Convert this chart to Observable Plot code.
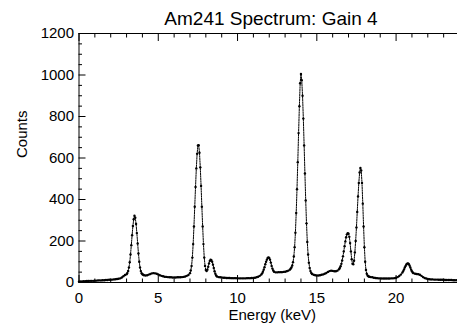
<!DOCTYPE html>
<html><head><meta charset="utf-8">
<script src="https://cdn.jsdelivr.net/npm/d3@7"></script>
<script src="https://cdn.jsdelivr.net/npm/@observablehq/plot@0.6"></script>
<style>
body{margin:0;background:#fff;}
#wrap{position:relative;width:457px;height:325px;overflow:hidden;font-family:"Liberation Sans",Arial,Helvetica,sans-serif;}
#title{position:absolute;top:8px;left:151px;width:240px;text-align:center;font-size:19px;line-height:22px;color:#000;white-space:nowrap;}
svg{display:block;}
</style></head><body>
<div id="wrap"><div id="title">Am241 Spectrum: Gain 4</div></div>
<script>
// Energy (keV) of each plotted channel
const energy = [
  0,0.1,0.2,0.3,0.4,0.5,0.6,0.7,0.8,0.9,1,1.1,1.2,1.3,1.4,1.5,1.6,1.7,1.8,1.9,2,2.1,2.2,2.3,2.4,2.5,2.6,2.7,2.8,2.9,
  3,3.05,3.1,3.15,3.2,3.25,3.3,3.35,3.4,3.45,3.5,3.55,3.6,3.65,3.7,3.75,3.8,3.85,3.9,3.95,4,4.05,
  4.1,4.2,4.3,4.4,4.5,4.6,4.7,4.8,4.9,5,5.1,5.2,5.3,5.4,5.5,5.6,5.7,5.8,5.9,6,6.1,6.2,6.3,6.4,6.5,6.6,6.7,6.8,6.9,
  7,7.05,7.1,7.15,7.2,7.25,7.3,7.35,7.4,7.45,7.5,7.55,7.6,7.65,7.7,7.75,7.8,7.85,7.9,7.95,8,8.05,8.1,8.15,8.2,8.25,8.3,8.35,8.4,8.45,8.5,8.55,8.6,8.65,8.7,
  8.8,8.9,9,9.1,9.2,9.3,9.4,9.5,9.6,9.7,9.8,9.9,10,10.1,10.2,10.3,10.4,10.5,10.6,10.7,10.8,10.9,11,11.1,11.2,11.3,11.4,11.5,
  11.55,11.6,11.65,11.7,11.75,11.8,11.85,11.9,11.95,12,12.05,12.1,12.15,12.2,12.25,12.3,12.4,12.5,12.6,12.7,12.8,12.9,13,13.1,13.2,13.3,
  13.35,13.4,13.45,13.5,13.55,13.6,13.65,13.7,13.75,13.8,13.85,13.9,13.95,14,14.05,14.1,14.15,14.2,14.25,14.3,14.35,14.4,14.45,14.5,14.55,14.6,14.65,14.7,
  14.8,14.9,15,15.1,15.2,15.3,15.4,15.5,15.6,15.7,15.8,15.9,16,16.1,16.2,16.3,16.4,
  16.45,16.5,16.55,16.6,16.65,16.7,16.75,16.8,16.85,16.9,16.95,17,17.05,17.1,17.15,17.2,17.25,17.3,17.35,17.4,17.45,17.5,17.55,17.6,17.65,17.7,17.75,17.8,17.85,17.9,17.95,18,18.05,18.1,18.15,18.2,18.25,18.3,18.35,18.4,
  18.5,18.6,18.7,18.8,18.9,19,19.1,19.2,19.3,19.4,19.5,19.6,19.7,19.8,19.9,20,20.1,20.2,20.3,20.4,
  20.45,20.5,20.55,20.6,20.65,20.7,20.75,20.8,20.85,20.9,20.95,21,21.05,
  21.1,21.2,21.3,21.4,21.5,21.6,21.7,21.8,21.9,22,22.1,22.2,22.3,22.4,22.5,22.6,22.7,22.8,22.9,23,23.1,23.2,23.3,23.4,23.5,23.6,23.7,23.8,23.9,24
];
// Counts
const counts = [
  4,5,5,6,6,7,7,8,8,8,9,9,10,10,10,11,11,12,12,13,13,14,15,16,17,18,20,24,30,36,
  40,46,56,72,98,135,180,228,272,305,322,312,282,238,188,140,100,72,55,45,40,37,
  35,34,35,38,41,44,45,44,42,39,35,32,30,28,27,26,25,25,24,24,24,25,25,25,26,27,29,32,36,
  45,58,80,120,185,270,365,460,550,620,660,662,625,555,465,365,270,185,120,80,60,55,62,76,92,104,110,108,100,86,70,54,42,34,29,
  26,25,24,23,23,22,22,22,21,21,21,21,20,20,20,20,20,20,21,21,21,22,22,23,25,28,32,38,
  44,52,62,74,88,100,110,118,121,118,110,96,80,67,58,52,49,49,50,50,50,51,52,54,57,62,
  66,72,82,98,125,170,240,335,450,580,720,850,960,1005,975,900,790,660,525,395,285,195,135,95,70,55,46,41,
  37,35,34,34,35,37,39,42,46,51,55,57,56,54,54,57,64,
  70,78,90,106,126,150,175,198,218,232,238,235,220,190,150,112,90,88,105,145,200,265,340,415,480,530,552,540,480,380,270,170,100,60,42,34,30,28,27,26,
  25,23,22,21,20,20,19,19,19,19,19,19,20,20,21,23,26,31,38,48,
  55,63,72,80,87,91,92,89,82,72,62,54,48,
  45,42,41,40,37,32,26,22,19,17,16,15,15,14,14,14,13,13,13,13,12,12,12,12,12,11,11,11,11,11
];
const xMajorTicks = [0, 5, 10, 15, 20];
const xMinorTicks = [1,2,3,4,6,7,8,9,11,12,13,14,16,17,18,19,21,22,23,24];
const yMajorTicks = [0, 200, 400, 600, 800, 1000, 1200];
const yMinorTicks = [50,100,150,250,300,350,450,500,550,650,700,750,850,900,950,1050,1100,1150];
const xLabel = "Energy (keV)";
const yLabel = "Counts";

const data = energy.map((e, i) => ({energy: e, counts: counts[i]}));
const font = "Liberation Sans, Arial, Helvetica, sans-serif";
const blank = () => "";
const MAJ = 7, MIN = 3.5;

const chart = Plot.plot({
  width: 457,
  height: 325,
  marginLeft: 78.5,
  marginRight: -2,
  marginTop: 33,
  marginBottom: 43,
  style: {fontFamily: font, fontSize: "15px", color: "#000", background: "#fff"},
  x: {domain: [0, 24]},
  y: {domain: [0, 1200]},
  marks: [
    // box lines
    Plot.ruleY([0, 1200], {stroke: "#000", strokeWidth: 1}),
    Plot.ruleX([0], {stroke: "#000", strokeWidth: 1}),
    // inward ticks (drawn outward then shifted inside the frame)
    Plot.axisX({anchor: "bottom", ticks: xMajorTicks, tickSize: MAJ, dy: -MAJ, tickFormat: blank, label: null}),
    Plot.axisX({anchor: "bottom", ticks: xMinorTicks, tickSize: MIN, dy: -MIN, tickFormat: blank, label: null}),
    Plot.axisX({anchor: "top", ticks: xMajorTicks, tickSize: MAJ, dy: MAJ, tickFormat: blank, label: null}),
    Plot.axisX({anchor: "top", ticks: xMinorTicks, tickSize: MIN, dy: MIN, tickFormat: blank, label: null}),
    Plot.axisY({anchor: "left", ticks: yMajorTicks, tickSize: MAJ, dx: MAJ, tickFormat: blank, label: null}),
    Plot.axisY({anchor: "left", ticks: yMinorTicks, tickSize: MIN, dx: MIN, tickFormat: blank, label: null}),
    // tick labels
    Plot.axisX({anchor: "bottom", ticks: xMajorTicks, tickSize: 0, tickPadding: 10, fontSize: 15, tickFormat: d3.format("d"), label: null}),
    Plot.axisY({anchor: "left", ticks: yMajorTicks, tickSize: 0, tickPadding: 5, fontSize: 15, tickFormat: d3.format("d"), label: null}),
    // axis titles
    Plot.text([xLabel], {text: d => d, frameAnchor: "bottom", dx: 3, dy: 33, fontSize: 15, lineAnchor: "middle"}),
    Plot.text([yLabel], {text: d => d, frameAnchor: "left", dx: -57, dy: 0, rotate: -90, fontSize: 15, lineAnchor: "middle"}),
    // spectrum points
    Plot.line(data, {x: "energy", y: "counts", stroke: "#000", strokeWidth: 1, strokeDasharray: "1.5,1"}),
    Plot.dot(data, {x: "energy", y: "counts", r: 1.2, fill: "#000", stroke: null})
  ]
});
document.getElementById("wrap").prepend(chart);
</script>
</body></html>
